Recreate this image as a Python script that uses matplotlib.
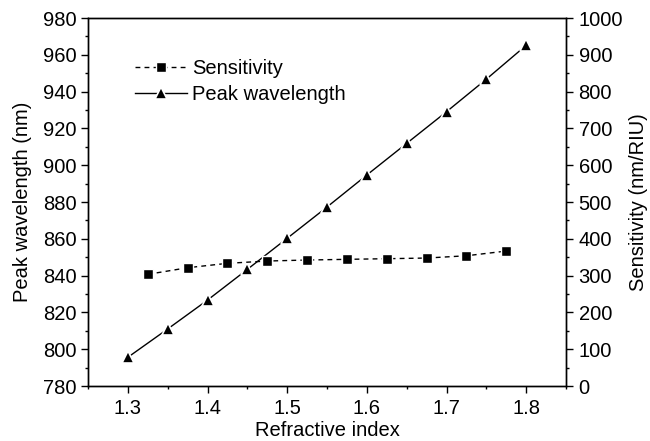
import matplotlib
matplotlib.use("Agg")
import matplotlib.pyplot as plt
from matplotlib.ticker import MultipleLocator

plt.rcParams['font.family'] = ['Liberation Sans', 'DejaVu Sans']

# Peak wavelength vs refractive index
ri_peak = [1.30, 1.35, 1.40, 1.45, 1.50, 1.55, 1.60, 1.65, 1.70, 1.75, 1.80]
peak_nm = [795.6, 811.0, 826.7, 843.4, 860.3, 877.3, 894.7, 911.9, 929.1, 946.8, 965.2]

# Sensitivity evaluated at interval midpoints
ri_sens = [1.325, 1.375, 1.425, 1.475, 1.525, 1.575, 1.625, 1.675, 1.725, 1.775]
sens = [303.5, 321.5, 333.4, 339.7, 342.4, 344.3, 346.0, 347.8, 354.0, 366.8]

fs = 14.5
fig = plt.figure(figsize=(6.5, 4.41), dpi=100)
ax = fig.add_axes([0.1354, 0.1247, 0.7354, 0.8343])
ax2 = ax.twinx()

l_peak, = ax.plot(ri_peak, peak_nm, '-', color='black', lw=1.0,
                  marker='^', ms=8.5, mfc='black', mec='white', mew=1.2,
                  label='Peak wavelength')
l_sens, = ax2.plot(ri_sens, sens, color='black', lw=1.0, ls=(0, (3.5, 3)),
                   marker='s', ms=6.5, mfc='black', mec='white', mew=1.0,
                   label='Sensitivity')

ax.set_xlim(1.25, 1.85)
ax.set_ylim(780, 980)
ax2.set_ylim(0, 1000)

ax.xaxis.set_major_locator(MultipleLocator(0.1))
ax.xaxis.set_minor_locator(MultipleLocator(0.05))
ax.yaxis.set_major_locator(MultipleLocator(20))
ax.yaxis.set_minor_locator(MultipleLocator(10))
ax2.yaxis.set_major_locator(MultipleLocator(100))
ax2.yaxis.set_minor_locator(MultipleLocator(50))

for a in (ax, ax2):
    a.tick_params(which='major', direction='out', length=5, width=1.0,
                  labelsize=fs)
    a.tick_params(which='minor', direction='out', length=2.5, width=1.0)
    for s in a.spines.values():
        s.set_linewidth(1.0)
ax.tick_params(top=False, right=False, which='both')
ax.tick_params(axis='x', which='major', pad=4.5)
ax.tick_params(axis='y', which='major', pad=3)
ax2.tick_params(left=False, which='both')
ax2.tick_params(axis='y', which='major', pad=4)

ax.set_xlabel('Refractive index', fontsize=fs, labelpad=2)
ax.set_ylabel('Peak wavelength (nm)', fontsize=fs, labelpad=8)
ax2.set_ylabel('Sensitivity (nm/RIU)', fontsize=fs, labelpad=4)

leg = ax.legend([l_sens, l_peak], ['Sensitivity', 'Peak wavelength'],
                loc='upper left', bbox_to_anchor=(0.098, 0.888),
                frameon=False, fontsize=fs, handlelength=2.6,
                handletextpad=0.25, labelspacing=0.33, borderaxespad=0,
                borderpad=0)

fig.savefig('out.png', dpi=100)
